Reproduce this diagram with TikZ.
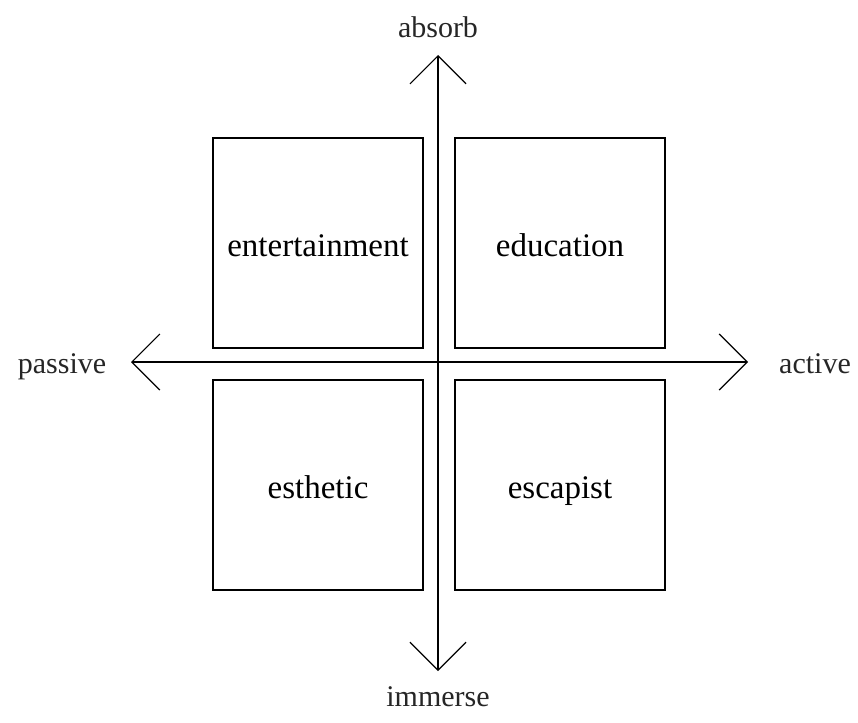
\documentclass[tikz,border=0pt]{standalone}
\usepackage{fontspec}
\setmainfont{Liberation Serif}
\usetikzlibrary{arrows.meta}
\begin{document}
\begin{tikzpicture}[x=1pt,y=-1pt,
  quad/.style={draw, line width=1.2pt, minimum size=210pt, inner sep=0pt,
    text height=27pt, text depth=0pt,
    font=\fontsize{33}{38}\selectfont},
  axislabel/.style={font=\fontsize{30}{34}\selectfont, text=black!85, inner sep=0pt, anchor=base},
  axis/.style={line width=1.2pt, {Straight Barb[length=28pt,width=56pt]}-{Straight Barb[length=28pt,width=56pt]}}]
\useasboundingbox (0,0) rectangle (858,722);
\coordinate (top) at (438,55);
\coordinate (bottom) at (438,671);
\coordinate (left) at (131,362);
\coordinate (right) at (748,362);
\draw[axis] (bottom) -- (top);
\draw[axis] (left) -- (right);
\node[quad] (ent) at (318,243) {entertainment};
\node[quad] (edu) at (560,243) {education};
\node[quad] (est) at (318,485) {esthetic};
\node[quad] (esc) at (560,485) {escapist};
\node[axislabel] (absorb) at (438,38) {absorb};
\node[axislabel] (immerse) at (438,706) {immerse};
\node[axislabel] (passive) at (62,373) {passive};
\node[axislabel] (active) at (815,373) {active};
\end{tikzpicture}
\end{document}
